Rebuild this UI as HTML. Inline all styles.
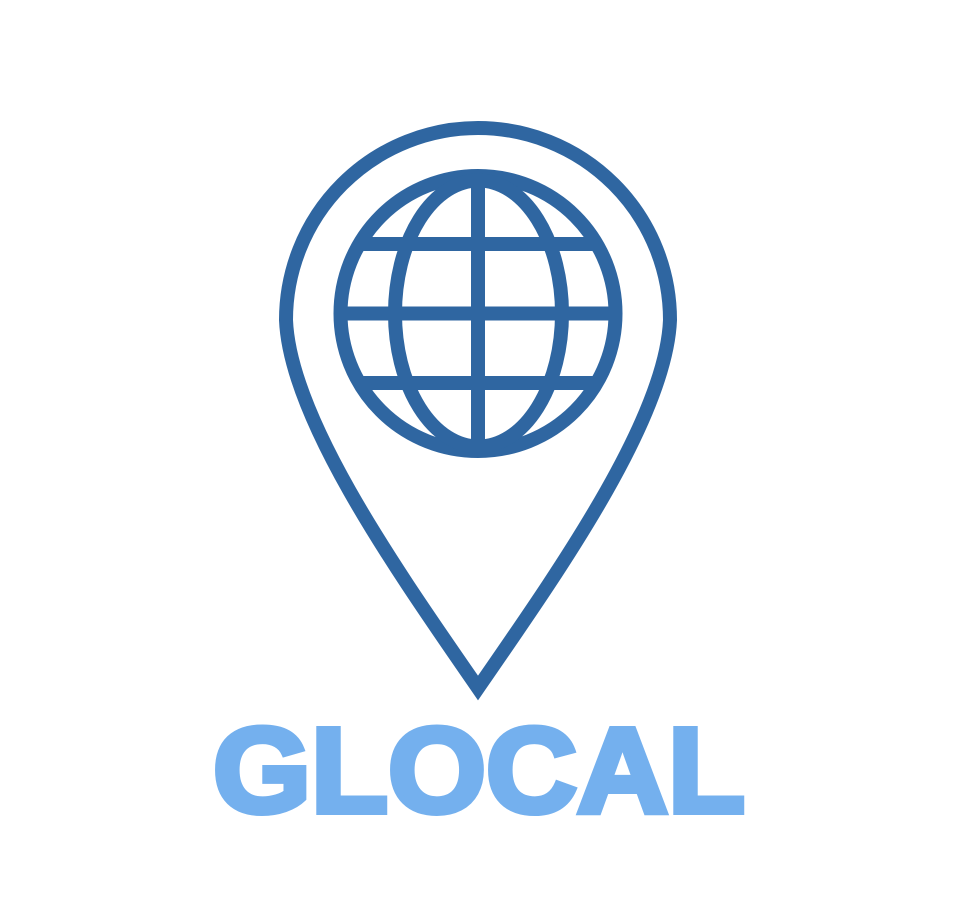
<!DOCTYPE html>
<html><head><meta charset="utf-8"><style>
html,body{margin:0;padding:0;background:#fff;}
svg{display:block;}
</style></head><body>
<svg width="970" height="916" viewBox="0 0 970 916">
<rect width="970" height="916" fill="#fff"/>
<path d="M478,688 C400,575 290,420 286,320 A192,192 0 0 1 670,320 C666,420 556,575 478,688 Z" fill="none" stroke="#2f66a1" stroke-width="14" stroke-linejoin="miter"/>
<g fill="none" stroke="#2f66a1" stroke-width="14">
<circle cx="478" cy="313.5" r="137.5"/>
<ellipse cx="478.5" cy="313.5" rx="83.5" ry="133"/>
<line x1="478" y1="176" x2="478" y2="451"/>
<line x1="341" y1="313.5" x2="616" y2="313.5"/>
<line x1="360" y1="244" x2="596" y2="244"/>
<line x1="360" y1="383" x2="596" y2="383"/>
</g>
<text x="213" y="812" textLength="532" lengthAdjust="spacingAndGlyphs" font-family="'Liberation Sans', sans-serif" font-weight="bold" font-size="121" fill="#74b0ee" stroke="#74b0ee" stroke-width="6" stroke-linejoin="miter">GLOCAL</text>
</svg>
</body></html>
